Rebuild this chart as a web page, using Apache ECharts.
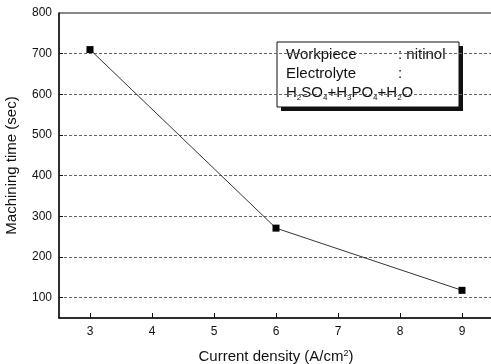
<!DOCTYPE html>
<html>
<head>
<meta charset="utf-8">
<script src="https://cdn.jsdelivr.net/npm/echarts@6/dist/echarts.min.js"></script>
<style>
  html, body { margin: 0; padding: 0; background: #fff; }
  #chart { width: 491px; height: 364px; }
</style>
</head>
<body>
<div id="chart"></div>
<script>
    // 数据
    var currentDensity = [3, 6, 9];
    var machiningTime = [710, 271, 118];
    var xTicks = [3, 4, 5, 6, 7, 8, 9];
    var yLabels = [100, 200, 300, 400, 500, 600, 700, 800];
    var yGrid = [100, 200, 300, 400, 500, 600, 700];

    var font = "'Liberation Sans', Arial, sans-serif";
    var chart = echarts.init(document.getElementById('chart'));

    var points = currentDensity.map(function(x, i) {
        return [x, machiningTime[i]];
    });

    var option = {
        animation: false,
        grid: {
            left: 59,
            top: 13,
            width: 434,
            height: 305,
            outerBoundsMode: 'none',
            containLabel: false,
            show: true,
            borderColor: '#111',
            borderWidth: 1
        },
        xAxis: {
            type: 'value',
            min: 2.5,
            max: 9.5,
            name: 'Current density (A/cm{sup|2})',
            nameLocation: 'middle',
            nameGap: 31,
            nameTextStyle: {
                fontFamily: font,
                fontSize: 15,
                color: '#111',
                rich: {
                    sup: { fontSize: 9, verticalAlign: 'top', fontFamily: font, color: '#111' }
                }
            },
            axisLine: { lineStyle: { color: '#111', width: 1.5 } },
            axisTick: {
                inside: true,
                length: 5,
                customValues: xTicks,
                lineStyle: { color: '#111' }
            },
            axisLabel: {
                customValues: xTicks,
                fontFamily: font,
                fontSize: 12,
                color: '#111',
                margin: 8
            },
            splitLine: { show: false }
        },
        yAxis: {
            type: 'value',
            min: 50,
            max: 800,
            name: 'Machining time (sec)',
            nameLocation: 'middle',
            nameGap: 40,
            nameTextStyle: { fontFamily: font, fontSize: 15, color: '#111' },
            axisLine: { lineStyle: { color: '#111', width: 1.5 } },
            axisTick: {
                inside: true,
                length: 4,
                customValues: yGrid,
                lineStyle: { color: '#111' }
            },
            axisLabel: {
                customValues: yLabels,
                fontFamily: font,
                fontSize: 12,
                color: '#111',
                margin: 7
            },
            splitLine: {
                show: true,
                lineStyle: { color: '#666', type: [3, 2], width: 1 }
            }
        },
        graphic: [
            {
                type: 'group',
                z: 100,
                children: [
                    {
                        type: 'rect',
                        shape: { x: 281, y: 46, width: 182, height: 65 },
                        style: { fill: '#111' }
                    },
                    {
                        type: 'rect',
                        shape: { x: 277, y: 42, width: 182, height: 65 },
                        style: { fill: '#fff', stroke: '#111', lineWidth: 1 }
                    },
                    {
                        type: 'text',
                        x: 286, y: 55,
                        style: { text: 'Workpiece', font: '15px ' + font, fill: '#111', verticalAlign: 'middle' }
                    },
                    {
                        type: 'text',
                        x: 398, y: 55,
                        style: { text: ': nitinol', font: '15px ' + font, fill: '#111', verticalAlign: 'middle' }
                    },
                    {
                        type: 'text',
                        x: 286, y: 74,
                        style: { text: 'Electrolyte', font: '15px ' + font, fill: '#111', verticalAlign: 'middle' }
                    },
                    {
                        type: 'text',
                        x: 398, y: 74,
                        style: { text: ':', font: '15px ' + font, fill: '#111', verticalAlign: 'middle' }
                    },
                    {
                        type: 'text',
                        x: 286, y: 93,
                        style: {
                            text: 'H{s|2}SO{s|4}+H{s|3}PO{s|4}+H{s|2}O',
                            font: '15px ' + font,
                            fill: '#111',
                            verticalAlign: 'middle',
                            rich: {
                                s: { fontSize: 8, fontFamily: font, fill: '#111', verticalAlign: 'bottom', lineHeight: 18 }
                            }
                        }
                    }
                ]
            }
        ],
        series: [
            {
                type: 'line',
                data: points,
                symbol: 'rect',
                symbolSize: 7,
                itemStyle: { color: '#000' },
                lineStyle: { color: '#333', width: 1 }
            }
        ]
    };

    chart.setOption(option);
</script>
</body>
</html>
